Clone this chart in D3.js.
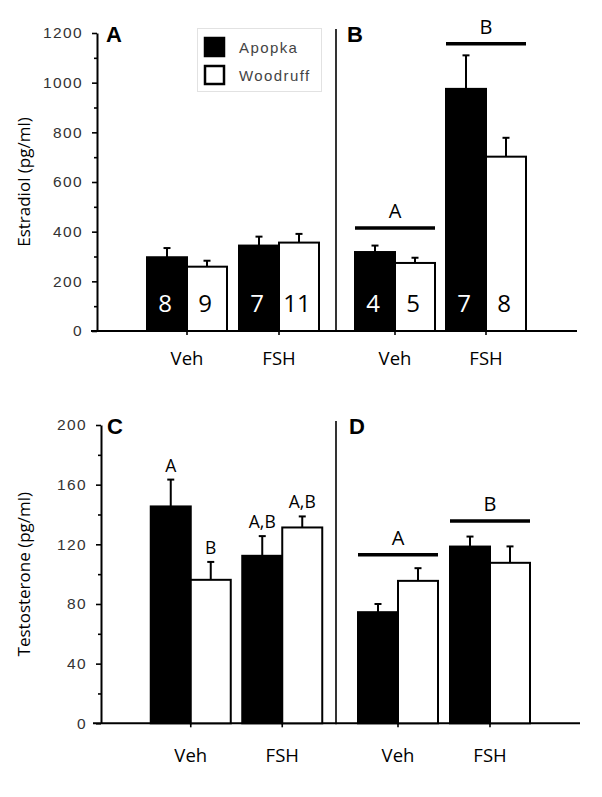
<!DOCTYPE html>
<html><head><meta charset="utf-8">
<script src="https://cdn.jsdelivr.net/npm/d3@7"></script>
<style>body{margin:0;background:#fff}svg{display:block}</style>
</head><body><svg id="c" width="602" height="797"></svg>
<script>
// ---------- data ----------
const categories = ["Veh", "FSH"];
const series = ["Apopka", "Woodruff"];

// Estradiol (pg/ml)
const e2Ticks = [0, 200, 400, 600, 800, 1000, 1200];
const e2Minor = [100, 300, 500, 700, 900, 1100];
const e2A_apopka = [297, 344],  e2A_apopka_err = [37, 36];
const e2A_woodruff = [259, 356], e2A_woodruff_err = [24, 35];
const e2A_n_apopka = [8, 7],    e2A_n_woodruff = [9, 11];
const e2B_apopka = [318, 975],  e2B_apopka_err = [26, 135];
const e2B_woodruff = [274, 702], e2B_woodruff_err = [21, 76];
const e2B_n_apopka = [4, 7],    e2B_n_woodruff = [5, 8];
const e2B_groupLetters = ["A", "B"];
const e2B_groupLevels = [415, 1157];

// Testosterone (pg/ml)
const tTicks = [0, 40, 80, 120, 160, 200];
const tMinor = [20, 60, 100, 140, 180];
const tC_apopka = [145.4, 112.3], tC_apopka_err = [18, 13.2];
const tC_woodruff = [96.2, 131.3], tC_woodruff_err = [12, 7.4];
const tC_letters_apopka = ["A", "A,B"];
const tC_letters_woodruff = ["B", "A,B"];
const tD_apopka = [74.5, 118.5], tD_apopka_err = [5.5, 6.7];
const tD_woodruff = [95.5, 107.6], tD_woodruff_err = [8.5, 11];
const tD_groupLetters = ["A", "B"];
const tD_groupLevels = [113, 135.6];

// ---------- layout ----------
const svg = d3.select("#c");
const SANS = "'Open Sans', 'Noto Sans', sans-serif";
const ARIAL = "'Liberation Sans', Arial, sans-serif";

const rows = [
  {
    y: d3.scaleLinear().domain([0, 1200]).range([331, 33]),
    ticks: e2Ticks, minor: e2Minor, axisX: 97, baseX: [91, 577],
    divX: 336, divTop: 29, title: "Estradiol (pg/ml)", labelY: 365,
    panels: [
      { letter: "A", lx: 106, ly: 42, range: [141, 325],
        a: e2A_apopka, ae: e2A_apopka_err, w: e2A_woodruff, we: e2A_woodruff_err,
        na: e2A_n_apopka, nw: e2A_n_woodruff },
      { letter: "B", lx: 347, ly: 42, range: [349.5, 531.5],
        a: e2B_apopka, ae: e2B_apopka_err, w: e2B_woodruff, we: e2B_woodruff_err,
        na: e2B_n_apopka, nw: e2B_n_woodruff,
        gl: e2B_groupLetters, glv: e2B_groupLevels }
    ]
  },
  {
    y: d3.scaleLinear().domain([0, 200]).range([723.3, 425]),
    ticks: tTicks, minor: tMinor, axisX: 101, baseX: [93, 580],
    divX: 336, divTop: 421, title: "Testosterone (pg/ml)", labelY: 762,
    panels: [
      { letter: "C", lx: 107, ly: 434, range: [145, 328],
        a: tC_apopka, ae: tC_apopka_err, w: tC_woodruff, we: tC_woodruff_err,
        la: tC_letters_apopka, lw: tC_letters_woodruff },
      { letter: "D", lx: 349, ly: 434, range: [352, 536],
        a: tD_apopka, ae: tD_apopka_err, w: tD_woodruff, we: tD_woodruff_err,
        gl: tD_groupLetters, glv: tD_groupLevels }
    ]
  }
];

rows.forEach(row => {
  const y = row.y;
  const g = svg.append("g");

  // y axis (major)
  const ax = g.append("g").attr("transform", `translate(${row.axisX},0)`)
    .call(d3.axisLeft(y).tickValues(row.ticks).tickFormat(d3.format("d"))
      .tickSize(5).tickSizeOuter(0).tickPadding(9));
  ax.select(".domain").attr("stroke", "#000").attr("stroke-width", 2);
  ax.selectAll(".tick line").attr("stroke", "#000").attr("stroke-width", 1.6);
  ax.selectAll(".tick text").attr("font-family", ARIAL).attr("font-size", 15.5)
    .attr("letter-spacing", 1.4).attr("fill", "#333");
  // minor ticks
  const mx = g.append("g").attr("transform", `translate(${row.axisX},0)`)
    .call(d3.axisLeft(y).tickValues(row.minor).tickSize(3).tickFormat(""));
  mx.select(".domain").remove();
  mx.selectAll(".tick line").attr("stroke", "#000").attr("stroke-width", 1.6);

  // baseline & divider
  g.append("line").attr("x1", row.baseX[0]).attr("x2", row.baseX[1])
    .attr("y1", y(0)).attr("y2", y(0)).attr("stroke", "#000").attr("stroke-width", 2);
  g.append("line").attr("x1", row.divX).attr("x2", row.divX)
    .attr("y1", row.divTop).attr("y2", y(0) + 1).attr("stroke", "#000").attr("stroke-width", 1.6);

  // y title
  g.append("text")
    .attr("transform", `translate(30,${(y(0) + y(y.domain()[1])) / 2}) rotate(-90)`)
    .attr("text-anchor", "middle").attr("font-family", SANS).attr("font-size", 17)
    .attr("fill", "#000").text(row.title);

  row.panels.forEach(p => {
    const x0 = d3.scaleBand().domain(categories).range(p.range).paddingInner(0).paddingOuter(0);
    const x1 = d3.scaleBand().domain(series).range([0, 80]);
    const off = (x0.bandwidth() - 80) / 2;
    const data = [];
    categories.forEach((c, i) => {
      data.push({ c, s: "Apopka", v: p.a[i], e: p.ae[i], n: p.na ? p.na[i] : null, l: p.la ? p.la[i] : null });
      data.push({ c, s: "Woodruff", v: p.w[i], e: p.we[i], n: p.nw ? p.nw[i] : null, l: p.lw ? p.lw[i] : null });
    });
    const bx = d => x0(d.c) + off + x1(d.s);
    const bw = x1.bandwidth();

    // x ticks & labels
    const xa = g.append("g").attr("transform", `translate(0,${y(0)})`)
      .call(d3.axisBottom(x0).tickSize(4).tickSizeOuter(0).tickFormat(""));
    xa.select(".domain").remove();
    xa.selectAll(".tick line").attr("stroke", "#000").attr("stroke-width", 1.6);
    categories.forEach(c => {
      g.append("text").attr("x", x0(c) + x0.bandwidth() / 2).attr("y", row.labelY)
        .attr("text-anchor", "middle").attr("font-family", SANS).attr("font-size", 18.5)
        .attr("fill", "#000").text(c);
    });

    // error bars
    const eb = g.append("g").attr("stroke", "#000").attr("stroke-width", 2);
    data.forEach(d => {
      const cx = bx(d) + bw / 2;
      eb.append("line").attr("x1", cx).attr("x2", cx).attr("y1", y(d.v)).attr("y2", y(d.v + d.e));
      eb.append("line").attr("x1", cx - 3.5).attr("x2", cx + 3.5).attr("y1", y(d.v + d.e)).attr("y2", y(d.v + d.e));
    });

    // bars
    g.append("g").selectAll("rect").data(data).join("rect")
      .attr("x", d => bx(d)).attr("width", bw)
      .attr("y", d => y(d.v)).attr("height", d => y(0) - y(d.v))
      .attr("fill", d => d.s === "Apopka" ? "#000" : "#fff")
      .attr("stroke", "#000").attr("stroke-width", 2);

    // n labels
    data.filter(d => d.n !== null).forEach(d => {
      g.append("text").attr("x", bx(d) + bw / 2 - 2).attr("y", y(0) - 19)
        .attr("text-anchor", "middle").attr("font-family", SANS).attr("font-size", 24)
        .attr("fill", d.s === "Apopka" ? "#fff" : "#000").text(d.n);
    });

    // per-bar letters
    data.filter(d => d.l !== null).forEach(d => {
      g.append("text").attr("x", bx(d) + bw / 2).attr("y", y(d.v + d.e) - 8)
        .attr("text-anchor", "middle").attr("font-family", SANS).attr("font-size", 17.5)
        .attr("fill", "#000").text(d.l);
    });

    // group significance bars
    if (p.gl) {
      categories.forEach((c, i) => {
        const xs = x0(c) + off, xe = xs + 80;
        const yy = y(p.glv[i]);
        g.append("line").attr("x1", xs).attr("x2", xe).attr("y1", yy).attr("y2", yy)
          .attr("stroke", "#000").attr("stroke-width", 3.5);
        g.append("text").attr("x", (xs + xe) / 2).attr("y", yy - 10)
          .attr("text-anchor", "middle").attr("font-family", SANS).attr("font-size", 20)
          .attr("fill", "#000").text(p.gl[i]);
      });
    }

    // panel letter
    g.append("text").attr("x", p.lx).attr("y", p.ly).attr("font-family", ARIAL)
      .attr("font-weight", "bold").attr("font-size", 22).attr("fill", "#000").text(p.letter);
  });
});

// legend
const lg = svg.append("g");
lg.append("rect").attr("x", 197.5).attr("y", 28.5).attr("width", 124).attr("height", 63)
  .attr("fill", "#fff").attr("stroke", "#e2e2e2").attr("stroke-width", 1);
series.forEach((s, i) => {
  const yy = 38 + i * 28;
  lg.append("rect").attr("x", 205).attr("y", yy).attr("width", 19).attr("height", 18)
    .attr("fill", i === 0 ? "#000" : "#fff").attr("stroke", "#000").attr("stroke-width", 2.5);
  lg.append("text").attr("x", 239).attr("y", yy + 15).attr("font-family", ARIAL)
    .attr("font-size", 15).attr("letter-spacing", 1.4).attr("fill", "#444").text(s);
});
</script>
</body></html>
